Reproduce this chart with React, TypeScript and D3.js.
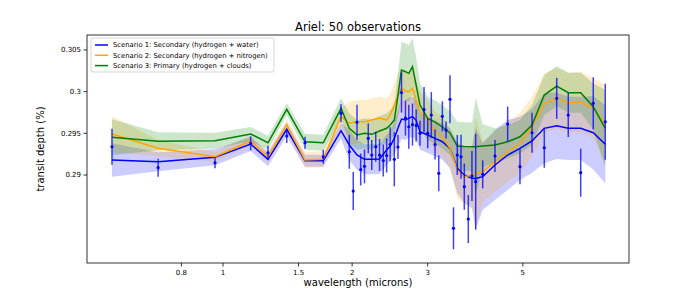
import * as d3 from "d3";

const obsWavelength = [0.551, 0.706, 0.958, 1.16, 1.273, 1.408, 1.553, 1.713, 1.884, 1.97, 2.012, 2.053, 2.094, 2.137, 2.181, 2.222, 2.27, 2.317, 2.364, 2.407, 2.453, 2.508, 2.558, 2.607, 2.663, 2.711, 2.765, 2.82, 2.879, 2.942, 3.001, 3.059, 3.121, 3.184, 3.246, 3.311, 3.382, 3.446, 3.517, 3.588, 3.652, 3.731, 3.805, 3.882, 4.031, 4.306, 4.609, 4.924, 5.253, 5.61, 5.997, 6.381, 6.821, 7.297, 7.783];
const obsDepth = [0.29339, 0.29088, 0.29147, 0.2938, 0.29267, 0.29468, 0.29387, 0.29219, 0.2974, 0.29279, 0.28808, 0.29632, 0.29066, 0.29104, 0.2944, 0.2924, 0.29339, 0.2924, 0.29174, 0.29234, 0.29369, 0.29188, 0.29336, 0.29989, 0.29683, 0.29579, 0.29605, 0.29593, 0.295, 0.29785, 0.295, 0.29719, 0.29366, 0.2902, 0.29704, 0.2954, 0.29908, 0.28361, 0.2924, 0.29219, 0.2886, 0.28472, 0.28988, 0.2892, 0.29008, 0.29228, 0.29611, 0.291, 0.29507, 0.29327, 0.2992, 0.29719, 0.29028, 0.2986, 0.29639];
const obsError = [0.00216, 0.00108, 0.00066, 0.00084, 0.00084, 0.00084, 0.00072, 0.00084, 0.00108, 0.00204, 0.00228, 0.0021, 0.00192, 0.00204, 0.0018, 0.0018, 0.0018, 0.00192, 0.00192, 0.00204, 0.00204, 0.00324, 0.00144, 0.0024, 0.0021, 0.00264, 0.00252, 0.00192, 0.0015, 0.0027, 0.0018, 0.00276, 0.0018, 0.00216, 0.0018, 0.00102, 0.00288, 0.00252, 0.0024, 0.00264, 0.00276, 0.00288, 0.003, 0.00576, 0.00168, 0.00192, 0.0021, 0.0021, 0.0024, 0.0024, 0.00246, 0.00264, 0.00288, 0.00312, 0.00456];

const modelWavelength = [0.551, 0.706, 0.958, 1.16, 1.273, 1.408, 1.553, 1.713, 1.884, 1.97, 2.053, 2.137, 2.222, 2.317, 2.407, 2.453, 2.508, 2.558, 2.607, 2.663, 2.711, 2.765, 2.82, 2.879, 3.001, 3.121, 3.246, 3.382, 3.517, 3.652, 3.805, 3.882, 4.031, 4.306, 4.609, 4.924, 5.253, 5.61, 5.997, 6.381, 6.821, 7.297, 7.783];

// scenario 1: secondary (hydrogen + water)
const s1Depth = [0.2918, 0.29159, 0.29212, 0.29372, 0.29188, 0.29548, 0.29171, 0.29171, 0.29531, 0.2936, 0.2924, 0.29188, 0.29188, 0.29192, 0.293, 0.29348, 0.2944, 0.29564, 0.29671, 0.29659, 0.29683, 0.29699, 0.29659, 0.29519, 0.2948, 0.2944, 0.29399, 0.2932, 0.2908, 0.29, 0.2896, 0.28958, 0.2898, 0.2912, 0.2924, 0.2932, 0.29408, 0.2956, 0.29591, 0.2956, 0.2956, 0.29507, 0.29368];
const s1Sigma = [0.002, 0.00114, 0.00096, 0.00084, 0.00084, 0.00084, 0.00072, 0.00072, 0.00096, 0.0018, 0.0018, 0.0018, 0.0018, 0.0018, 0.0018, 0.0018, 0.0019, 0.00216, 0.0024, 0.0024, 0.0024, 0.0024, 0.0024, 0.00216, 0.00216, 0.00216, 0.00216, 0.0024, 0.003, 0.00336, 0.0036, 0.0061, 0.004, 0.0042, 0.0042, 0.0038, 0.0038, 0.0042, 0.004, 0.0038, 0.0038, 0.0044, 0.0047];

// scenario 2: secondary (hydrogen + nitrogen)
const s2Depth = [0.29492, 0.2932, 0.29219, 0.29408, 0.29219, 0.296, 0.2918, 0.29188, 0.29699, 0.2962, 0.29639, 0.29639, 0.29659, 0.29683, 0.29659, 0.29719, 0.29839, 0.29947, 0.3004, 0.30007, 0.29999, 0.3004, 0.29899, 0.29759, 0.29659, 0.29519, 0.29459, 0.2932, 0.2906, 0.2898, 0.29, 0.29024, 0.2904, 0.29159, 0.29279, 0.2938, 0.29579, 0.2986, 0.2992, 0.29867, 0.29879, 0.298, 0.296];
const s2Sigma = [0.00216, 0.00096, 0.0006, 0.0006, 0.00072, 0.00072, 0.00096, 0.00096, 0.00096, 0.0026, 0.0026, 0.0026, 0.0026, 0.0026, 0.0026, 0.0026, 0.0026, 0.0026, 0.0024, 0.0024, 0.0024, 0.0024, 0.0024, 0.0024, 0.0024, 0.0024, 0.0024, 0.0024, 0.0034, 0.0034, 0.0034, 0.0068, 0.0036, 0.0036, 0.0036, 0.0036, 0.0036, 0.0036, 0.0036, 0.0036, 0.0036, 0.0036, 0.0048];

// scenario 3: primary (hydrogen + clouds)
const s3Depth = [0.29452, 0.29404, 0.29411, 0.29492, 0.29387, 0.29788, 0.29399, 0.29387, 0.298, 0.2956, 0.2948, 0.295, 0.29488, 0.29528, 0.2956, 0.296, 0.29659, 0.29959, 0.30259, 0.30239, 0.30219, 0.30299, 0.30079, 0.29839, 0.2968, 0.29635, 0.29576, 0.29504, 0.29348, 0.29342, 0.29339, 0.29339, 0.29348, 0.2936, 0.29399, 0.29459, 0.296, 0.29959, 0.30067, 0.29987, 0.29987, 0.29819, 0.2956];
const s3Sigma = [0.00216, 0.00108, 0.00096, 0.00084, 0.00084, 0.00072, 0.00096, 0.00096, 0.0012, 0.0018, 0.0018, 0.0018, 0.0018, 0.0018, 0.0018, 0.0018, 0.0018, 0.0026, 0.0034, 0.0034, 0.0034, 0.0034, 0.0034, 0.0026, 0.0026, 0.0026, 0.0026, 0.0026, 0.0029, 0.0029, 0.0029, 0.0059, 0.0026, 0.002, 0.002, 0.002, 0.0024, 0.0024, 0.0024, 0.0024, 0.0024, 0.0028, 0.0046];

const scenarioNames = [
  "Scenario 1: Secondary (hydrogen + water)",
  "Scenario 2: Secondary (hydrogen + nitrogen)",
  "Scenario 3: Primary (hydrogen + clouds)",
];
const scenarioColors = ["blue", "orange", "green"];

const xTicks = [0.8, 1, 1.5, 2, 3, 5];
const yTicks = [0.29, 0.295, 0.3, 0.305];

const width = 700;
const height = 300;
const left = 87, right = 629, top = 35, bottom = 263;
const font = "DejaVu Sans";

export default function App() {
  const x = d3.scaleLog().domain([0.4819, 8.84]).range([left, right]);
  const y = d3.scaleLinear().domain([0.27945, 0.30679]).range([bottom, top]);

  const scenarios = [
    { depth: s1Depth, sigma: s1Sigma },
    { depth: s2Depth, sigma: s2Sigma },
    { depth: s3Depth, sigma: s3Sigma },
  ];

  const area = (s) =>
    d3.area<number>()
      .x((w) => x(w))
      .y0((w, i) => y(s.depth[i] - s.sigma[i]))
      .y1((w, i) => y(s.depth[i] + s.sigma[i]))(modelWavelength);
  const line = (s) =>
    d3.line<number>().x((w) => x(w)).y((w, i) => y(s.depth[i]))(modelWavelength);

  return (
    <svg width={width} height={height} style={{ position: "absolute", left: 0, top: 0, fontFamily: font }}>
      <rect width={width} height={height} fill="white" />
      <defs>
        <clipPath id="plot">
          <rect x={left} y={top} width={right - left} height={bottom - top} />
        </clipPath>
      </defs>
      <g clipPath="url(#plot)">
        {scenarios.map((s, i) => (
          <path key={"a" + i} d={area(s)} fill={scenarioColors[i]} fillOpacity={0.2} stroke="none" />
        ))}
        {scenarios.map((s, i) => (
          <path key={"l" + i} d={line(s)} fill="none" stroke={scenarioColors[i]} strokeWidth={1.5} />
        ))}
        <g stroke="blue" strokeWidth={1.5} strokeOpacity={0.75}>
          {obsWavelength.map((w, i) => (
            <line key={i} x1={x(w)} x2={x(w)} y1={y(obsDepth[i] - obsError[i])} y2={y(obsDepth[i] + obsError[i])} />
          ))}
        </g>
        <g fill="blue">
          {obsWavelength.map((w, i) => (
            <circle key={i} cx={x(w)} cy={y(obsDepth[i])} r={1.6} />
          ))}
        </g>
      </g>

      <rect x={left} y={top} width={right - left} height={bottom - top} fill="none" stroke="black" strokeWidth={0.8} />

      {xTicks.map((t) => (
        <g key={t} transform={`translate(${x(t)},${bottom})`}>
          <line y2={3.5} stroke="black" strokeWidth={0.8} />
          <text y={12} textAnchor="middle" fontSize={7}>{t}</text>
        </g>
      ))}
      {yTicks.map((t) => (
        <g key={t} transform={`translate(${left},${y(t)})`}>
          <line x2={-3.5} stroke="black" strokeWidth={0.8} />
          <text x={-6} dy="0.35em" textAnchor="end" fontSize={7}>{t}</text>
        </g>
      ))}

      <text x={(left + right) / 2} y={286} textAnchor="middle" fontSize={10}>wavelength (microns)</text>
      <text transform={`translate(44,${(top + bottom) / 2}) rotate(-90)`} textAnchor="middle" fontSize={10}>transit depth (%)</text>
      <text x={(left + right) / 2} y={31} textAnchor="middle" fontSize={11.5}>Ariel: 50 observations</text>

      <g transform="translate(91,38)">
        <rect width={183} height={34} rx={2} fill="white" fillOpacity={0.8} stroke="#cccccc" strokeWidth={0.8} />
        {scenarioNames.map((n, i) => (
          <g key={n} transform={`translate(0,${7 + i * 10.3})`}>
            <line x1={4} x2={17} stroke={scenarioColors[i]} strokeWidth={1.5} />
            <text x={22} dy="0.35em" fontSize={6.8}>{n}</text>
          </g>
        ))}
      </g>
    </svg>
  );
}
